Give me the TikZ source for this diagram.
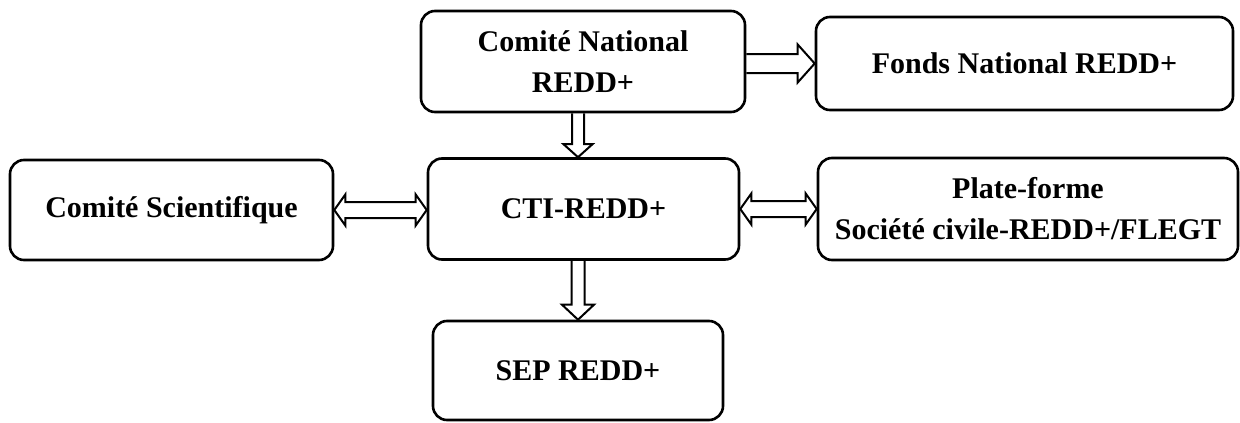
\documentclass[tikz,border=0pt]{standalone}
\usepackage{fontspec}
\setmainfont{Liberation Serif}
\usetikzlibrary{calc}

% hollow block arrow pointing right: #1 tail, #2 tip, #3 half shaft, #4 half head, #5 head length
\newcommand\rblock[5]{%
  \draw[blockarrow] let \p1=(#1), \p2=(#2) in
    (\x1,\y1+#3) -- (\x2-#5,\y1+#3) -- (\x2-#5,\y1+#4) -- (\x2,\y1)
    -- (\x2-#5,\y1-#4) -- (\x2-#5,\y1-#3) -- (\x1,\y1-#3);}
% hollow block arrow pointing down
\newcommand\dblock[5]{%
  \draw[blockarrow] let \p1=(#1), \p2=(#2) in
    (\x1-#3,\y1) -- (\x1-#3,\y2+#5) -- (\x1-#4,\y2+#5) -- (\x1,\y2)
    -- (\x1+#4,\y2+#5) -- (\x1+#3,\y2+#5) -- (\x1+#3,\y1);}
% hollow block arrow with heads at both ends
\newcommand\lrblock[5]{%
  \draw[blockarrow] let \p1=(#1), \p2=(#2) in
    (\x1,\y1) -- (\x1+#5,\y1+#4) -- (\x1+#5,\y1+#3) -- (\x2-#5,\y1+#3)
    -- (\x2-#5,\y1+#4) -- (\x2,\y1) -- (\x2-#5,\y1-#4) -- (\x2-#5,\y1-#3)
    -- (\x1+#5,\y1-#3) -- (\x1+#5,\y1-#4) -- cycle;}

\begin{document}
\begin{tikzpicture}[x=1pt,y=-1pt,
  box/.style={draw, line width=2.6pt, rounded corners=14pt, align=center,
    inner sep=0pt, font=\bfseries\fontsize{30}{41}\selectfont},
  blockarrow/.style={draw, line width=2pt, line join=miter}]
  \useasboundingbox (0,0) rectangle (1240,423);

  % organisational boxes
  \node[box, minimum width=324pt, minimum height=101pt] (cn) at (583,61.5)
    {Comité National\\REDD+};
  \node[box, minimum width=417pt, minimum height=93pt] (fn) at (1024.5,63.5)
    {Fonds National REDD+};
  \node[box, minimum width=323pt, minimum height=100pt] (cs) at (171.5,210)
    {Comité Scientifique};
  \node[box, minimum width=311pt, minimum height=101pt] (cti) at (583.5,209)
    {CTI-REDD+};
  \node[box, minimum width=420pt, minimum height=102pt] (pf) at (1028,209)
    {Plate-forme\\Société civile-REDD+/FLEGT};
  \node[box, minimum width=290pt, minimum height=99pt] (sep) at (578,370.5)
    {SEP REDD+};

  % links between the bodies
  \rblock{cn.east |- fn.west}{fn.west}{9.5pt}{19pt}{17pt}
  \dblock{cn.south -| sep.north}{cti.north -| sep.north}{6pt}{14.5pt}{13pt}
  \dblock{cti.south -| sep.north}{sep.north}{6.5pt}{16pt}{15pt}
  \lrblock{cs.east}{cs.east -| cti.west}{8pt}{15.5pt}{11pt}
  \lrblock{cti.east}{cti.east -| pf.west}{8pt}{15.5pt}{11pt}
\end{tikzpicture}
\end{document}
